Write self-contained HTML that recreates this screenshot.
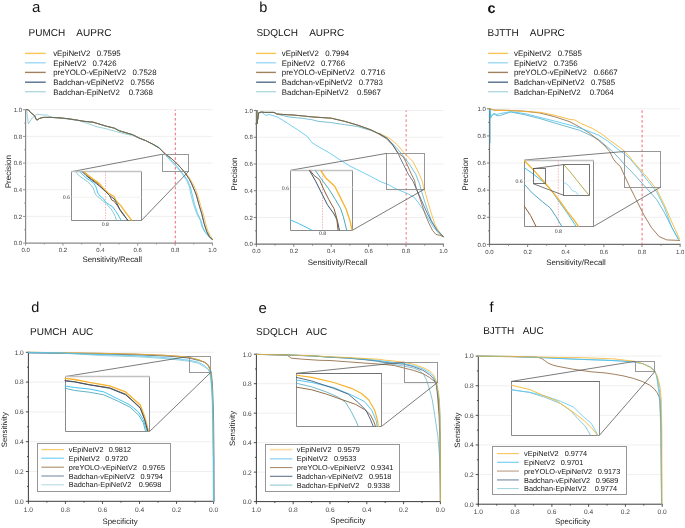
<!DOCTYPE html>
<html><head><meta charset="utf-8"><style>
html,body{margin:0;padding:0;background:#fff;}
svg{display:block;font-family:"Liberation Sans", sans-serif;will-change:transform;text-rendering:geometricPrecision;}
</style></head><body>
<svg width="685" height="528" viewBox="0 0 685 528">
<rect width="685" height="528" fill="#fff"/>
<text x="32.00" y="12.00" font-size="15" text-anchor="start" fill="#111" font-weight="normal" >a</text>
<text x="28.60" y="35.60" font-size="10" text-anchor="start" fill="#151515" font-weight="normal" >PUMCH    AUPRC</text>
<line x1="25.00" y1="53.40" x2="45.70" y2="53.40" stroke="#F8C455" stroke-width="1.4" />
<text x="53.20" y="56.23" font-size="7.85" text-anchor="start" fill="#151515" font-weight="normal" >vEpiNetV2</text>
<text x="96.65" y="56.23" font-size="7.85" text-anchor="start" fill="#151515" font-weight="normal" >0.7595</text>
<line x1="25.00" y1="62.80" x2="45.70" y2="62.80" stroke="#9CD9F5" stroke-width="1.4" />
<text x="53.20" y="65.63" font-size="7.85" text-anchor="start" fill="#151515" font-weight="normal" >EpiNetV2</text>
<text x="92.55" y="65.63" font-size="7.85" text-anchor="start" fill="#151515" font-weight="normal" >0.7426</text>
<line x1="25.00" y1="72.40" x2="45.70" y2="72.40" stroke="#A0805F" stroke-width="1.4" />
<text x="53.20" y="75.23" font-size="7.85" text-anchor="start" fill="#151515" font-weight="normal" >preYOLO-vEpiNetV2</text>
<text x="132.55" y="75.23" font-size="7.85" text-anchor="start" fill="#151515" font-weight="normal" >0.7528</text>
<line x1="25.00" y1="82.20" x2="45.70" y2="82.20" stroke="#546E8C" stroke-width="1.4" />
<text x="53.20" y="85.03" font-size="7.85" text-anchor="start" fill="#151515" font-weight="normal" >Badchan-vEpiNetV2</text>
<text x="130.45" y="85.03" font-size="7.85" text-anchor="start" fill="#151515" font-weight="normal" >0.7556</text>
<line x1="25.00" y1="91.70" x2="45.70" y2="91.70" stroke="#B0DAE0" stroke-width="1.4" />
<text x="53.20" y="94.53" font-size="7.85" text-anchor="start" fill="#151515" font-weight="normal" >Badchan-EpiNetV2</text>
<text x="128.75" y="94.53" font-size="7.85" text-anchor="start" fill="#151515" font-weight="normal" >0.7368</text>
<line x1="25.60" y1="216.42" x2="212.50" y2="216.42" stroke="#ebebeb" stroke-width="0.8" />
<line x1="25.60" y1="189.74" x2="212.50" y2="189.74" stroke="#ebebeb" stroke-width="0.8" />
<line x1="25.60" y1="163.06" x2="212.50" y2="163.06" stroke="#ebebeb" stroke-width="0.8" />
<line x1="25.60" y1="136.38" x2="212.50" y2="136.38" stroke="#ebebeb" stroke-width="0.8" />
<line x1="25.60" y1="109.70" x2="212.50" y2="109.70" stroke="#ebebeb" stroke-width="0.8" />
<line x1="25.60" y1="109.20" x2="25.60" y2="243.70" stroke="#8a8a8a" stroke-width="1.2" />
<line x1="25.00" y1="243.10" x2="213.00" y2="243.10" stroke="#8a8a8a" stroke-width="1.2" />
<line x1="23.00" y1="243.10" x2="25.60" y2="243.10" stroke="#8a8a8a" stroke-width="0.9" />
<line x1="25.60" y1="243.10" x2="25.60" y2="245.70" stroke="#8a8a8a" stroke-width="0.9" />
<line x1="24.20" y1="229.76" x2="25.60" y2="229.76" stroke="#8a8a8a" stroke-width="0.9" />
<line x1="44.29" y1="243.10" x2="44.29" y2="244.50" stroke="#8a8a8a" stroke-width="0.9" />
<line x1="23.00" y1="216.42" x2="25.60" y2="216.42" stroke="#8a8a8a" stroke-width="0.9" />
<line x1="62.98" y1="243.10" x2="62.98" y2="245.70" stroke="#8a8a8a" stroke-width="0.9" />
<line x1="24.20" y1="203.08" x2="25.60" y2="203.08" stroke="#8a8a8a" stroke-width="0.9" />
<line x1="81.67" y1="243.10" x2="81.67" y2="244.50" stroke="#8a8a8a" stroke-width="0.9" />
<line x1="23.00" y1="189.74" x2="25.60" y2="189.74" stroke="#8a8a8a" stroke-width="0.9" />
<line x1="100.36" y1="243.10" x2="100.36" y2="245.70" stroke="#8a8a8a" stroke-width="0.9" />
<line x1="24.20" y1="176.40" x2="25.60" y2="176.40" stroke="#8a8a8a" stroke-width="0.9" />
<line x1="119.05" y1="243.10" x2="119.05" y2="244.50" stroke="#8a8a8a" stroke-width="0.9" />
<line x1="23.00" y1="163.06" x2="25.60" y2="163.06" stroke="#8a8a8a" stroke-width="0.9" />
<line x1="137.74" y1="243.10" x2="137.74" y2="245.70" stroke="#8a8a8a" stroke-width="0.9" />
<line x1="24.20" y1="149.72" x2="25.60" y2="149.72" stroke="#8a8a8a" stroke-width="0.9" />
<line x1="156.43" y1="243.10" x2="156.43" y2="244.50" stroke="#8a8a8a" stroke-width="0.9" />
<line x1="23.00" y1="136.38" x2="25.60" y2="136.38" stroke="#8a8a8a" stroke-width="0.9" />
<line x1="175.12" y1="243.10" x2="175.12" y2="245.70" stroke="#8a8a8a" stroke-width="0.9" />
<line x1="24.20" y1="123.04" x2="25.60" y2="123.04" stroke="#8a8a8a" stroke-width="0.9" />
<line x1="193.81" y1="243.10" x2="193.81" y2="244.50" stroke="#8a8a8a" stroke-width="0.9" />
<line x1="23.00" y1="109.70" x2="25.60" y2="109.70" stroke="#8a8a8a" stroke-width="0.9" />
<line x1="212.50" y1="243.10" x2="212.50" y2="245.70" stroke="#8a8a8a" stroke-width="0.9" />
<text x="22.00" y="245.26" font-size="6.0" text-anchor="end" fill="#444" font-weight="normal" >0.0</text>
<text x="25.60" y="251.66" font-size="6.0" text-anchor="middle" fill="#444" font-weight="normal" >0.0</text>
<text x="22.00" y="218.58" font-size="6.0" text-anchor="end" fill="#444" font-weight="normal" >0.2</text>
<text x="62.98" y="251.66" font-size="6.0" text-anchor="middle" fill="#444" font-weight="normal" >0.2</text>
<text x="22.00" y="191.90" font-size="6.0" text-anchor="end" fill="#444" font-weight="normal" >0.4</text>
<text x="100.36" y="251.66" font-size="6.0" text-anchor="middle" fill="#444" font-weight="normal" >0.4</text>
<text x="22.00" y="165.22" font-size="6.0" text-anchor="end" fill="#444" font-weight="normal" >0.6</text>
<text x="137.74" y="251.66" font-size="6.0" text-anchor="middle" fill="#444" font-weight="normal" >0.6</text>
<text x="22.00" y="138.54" font-size="6.0" text-anchor="end" fill="#444" font-weight="normal" >0.8</text>
<text x="175.12" y="251.66" font-size="6.0" text-anchor="middle" fill="#444" font-weight="normal" >0.8</text>
<text x="22.00" y="111.86" font-size="6.0" text-anchor="end" fill="#444" font-weight="normal" >1.0</text>
<text x="212.50" y="251.66" font-size="6.0" text-anchor="middle" fill="#444" font-weight="normal" >1.0</text>
<text x="11.10" y="171.70" font-size="8.1" text-anchor="middle" fill="#222" font-weight="normal" transform="rotate(-90 11.1 171.7)">Precision</text>
<text x="112.20" y="262.20" font-size="7.9" text-anchor="middle" fill="#222" font-weight="normal" >Sensitivity/Recall</text>
<line x1="175.30" y1="109.70" x2="175.30" y2="243.10" stroke="#F26672" stroke-width="1.0" stroke-dasharray="2.6,2.3" stroke-dashoffset="1.5"/>
<polyline points="26.60,109.50 27.50,117.40 28.40,124.00 30.10,120.90 32.80,117.40 35.40,115.20 37.10,114.30 41.50,114.80 47.60,115.20 49.40,116.50 52.90,117.40 59.00,118.00 67.80,119.00 76.50,120.30 80.00,120.90 87.90,123.50 97.10,126.80 106.30,128.80 115.50,131.40 126.00,134.10 132.60,135.40 139.10,138.20 145.70,140.80 152.30,144.20 158.80,147.50 165.70,155.00 169.50,159.50 178.90,169.90 182.70,174.60 186.50,180.30 189.40,186.90 191.00,195.00 193.50,204.50 196.80,213.90 200.40,220.60 201.80,226.30 204.10,231.00 207.90,235.70 212.00,239.50" fill="none" stroke="#7FC6CF" stroke-width="0.8" stroke-linejoin="round" stroke-linecap="round" />
<polyline points="26.60,109.50 28.40,109.90 30.10,112.10 32.80,114.30 34.50,115.60 36.30,119.60 37.10,120.00 39.80,118.30 43.30,117.40 50.30,117.40 59.00,117.80 67.80,118.70 76.50,120.00 84.00,121.30 93.10,122.20 106.30,126.20 114.20,128.10 119.40,130.80 132.60,134.70 139.10,138.00 145.70,140.60 152.30,143.90 158.80,147.20 165.70,155.20 170.40,159.50 175.20,164.20 179.90,169.90 183.70,174.60 187.50,180.30 190.30,186.90 192.30,195.00 194.60,204.50 197.80,213.90 201.30,221.50 202.50,226.30 204.60,231.00 208.40,235.70 212.20,239.50" fill="none" stroke="#45C3F1" stroke-width="0.8" stroke-linejoin="round" stroke-linecap="round" />
<polyline points="26.60,109.50 28.40,109.90 30.10,112.10 32.80,114.30 34.50,115.60 36.30,119.60 37.10,120.00 39.80,118.30 43.30,117.40 50.30,117.40 59.00,117.80 67.80,118.70 76.50,120.00 84.00,121.30 93.10,122.20 106.30,126.20 114.20,128.10 119.40,130.80 132.60,134.70 139.10,138.00 145.70,140.60 152.30,143.90 158.80,147.80 165.70,154.30 171.40,158.50 177.00,163.70 181.80,168.90 185.60,173.70 189.40,179.40 192.20,185.00 195.00,191.70 196.30,195.00 198.90,204.50 201.80,213.90 204.10,223.40 206.50,231.00 209.40,236.70 212.20,239.50" fill="none" stroke="#8C5E34" stroke-width="0.8" stroke-linejoin="round" stroke-linecap="round" />
<polyline points="26.60,109.50 28.40,109.90 30.10,112.10 32.80,114.30 34.50,115.60 36.30,119.60 37.10,120.00 39.80,118.30 43.30,117.40 50.30,117.40 59.00,117.80 67.80,118.70 76.50,120.00 84.00,121.30 93.10,122.20 106.30,126.20 114.20,128.10 119.40,130.80 132.60,134.70 139.10,138.00 145.70,140.60 152.30,143.90 158.80,147.80 165.70,154.30 171.40,158.50 177.00,163.70 181.80,168.90 186.50,173.70 190.30,179.40 193.60,185.00 196.50,191.70 197.60,195.00 200.40,204.50 203.20,213.90 205.60,223.40 207.90,231.00 210.30,235.70 212.70,239.00" fill="none" stroke="#F6B32B" stroke-width="0.8" stroke-linejoin="round" stroke-linecap="round" />
<polyline points="26.60,109.50 28.40,109.90 30.10,112.10 32.80,114.30 34.50,115.60 36.30,119.60 37.10,120.00 39.80,118.30 43.30,117.40 50.30,117.40 59.00,117.80 67.80,118.70 76.50,120.00 84.00,121.30 93.10,122.20 106.30,126.20 114.20,128.10 119.40,130.80 132.60,134.70 139.10,138.00 145.70,140.60 152.30,143.90 158.80,147.80 165.70,154.30 171.40,158.50 177.00,163.70 181.80,168.90 185.60,173.70 189.40,179.40 192.20,185.00 195.00,191.70 196.30,195.00 198.90,204.50 201.80,213.90 204.10,223.40 206.50,231.00 209.40,236.70 212.20,239.50" fill="none" stroke="#3B5675" stroke-width="0.75" stroke-linejoin="round" stroke-linecap="round" />
<rect x="162.50" y="154.50" width="26.00" height="17.00" stroke="#8e8e8e" stroke-width="0.9" fill="none"/>
<line x1="71.50" y1="171.70" x2="162.00" y2="154.30" stroke="#5a5a5a" stroke-width="0.8" />
<line x1="141.60" y1="220.30" x2="188.60" y2="171.40" stroke="#5a5a5a" stroke-width="0.8" />
<rect x="71.50" y="171.50" width="70.00" height="49.00" stroke="none" stroke-width="0" fill="white"/>
<path d="M71.5,171.5 L71.5,220.5 L141.5,220.5 L141.5,171.5" fill="none" stroke="#7e7e7e" stroke-width="0.9"/>
<line x1="71.10" y1="171.50" x2="141.90" y2="171.50" stroke="#c2c2c2" stroke-width="1.4" />
<line x1="71.50" y1="197.20" x2="141.60" y2="197.20" stroke="#eeeeee" stroke-width="0.7" />
<line x1="105.50" y1="171.70" x2="105.50" y2="220.30" stroke="#F59AA0" stroke-width="0.7" stroke-dasharray="1.5,1.2" stroke-dashoffset="0"/>
<text x="69.90" y="199.25" font-size="5.2" text-anchor="end" fill="#333" font-weight="normal" >0.6</text>
<text x="105.30" y="226.25" font-size="5.2" text-anchor="middle" fill="#333" font-weight="normal" >0.8</text>
<polyline points="76.09,172.01 77.85,174.34 80.18,176.68 83.69,179.01 87.19,181.35 90.69,184.85 93.03,187.77 94.20,190.69 95.36,194.20 97.70,196.53 101.20,199.45 104.71,202.37 107.04,204.71 110.55,208.21 112.88,211.72 115.22,216.39 116.39,220.12" fill="none" stroke="#7FC6CF" stroke-width="0.95" stroke-linejoin="round" stroke-linecap="round" />
<polyline points="80.18,172.01 82.52,174.34 86.02,177.85 89.53,180.18 93.03,182.52 95.36,185.44 96.53,188.36 97.70,193.03 100.04,195.95 103.54,198.87 105.88,202.37 109.38,204.71 112.88,207.04 115.22,210.55 117.55,214.05 121.06,220.12" fill="none" stroke="#45C3F1" stroke-width="1.0" stroke-linejoin="round" stroke-linecap="round" />
<polyline points="83.69,172.01 88.36,176.68 93.03,180.18 98.87,184.27 103.54,189.53 109.38,195.36 111.72,200.04 114.05,201.20 117.55,205.88 121.06,211.72 124.56,216.39 128.07,220.12" fill="none" stroke="#8C5E34" stroke-width="1.0" stroke-linejoin="round" stroke-linecap="round" />
<polyline points="84.27,172.01 88.36,175.51 93.03,179.01 98.87,183.10 103.54,188.36 108.21,193.03 114.05,196.53 116.39,201.20 121.06,205.88 123.39,209.38 126.90,214.05 131.57,220.12" fill="none" stroke="#F6B32B" stroke-width="1.3" stroke-linejoin="round" stroke-linecap="round" />
<polyline points="82.52,172.01 86.02,175.51 91.86,180.18 96.53,183.69 100.04,186.61 105.88,191.86 109.38,195.36 114.05,198.87 116.39,202.37 119.89,209.38 123.39,214.05 127.48,220.12" fill="none" stroke="#3B5675" stroke-width="1.0" stroke-linejoin="round" stroke-linecap="round" />
<text x="259.30" y="11.80" font-size="14.5" text-anchor="start" fill="#111" font-weight="normal" >b</text>
<text x="256.40" y="36.00" font-size="10" text-anchor="start" fill="#151515" font-weight="normal" >SDQLCH    AUPRC</text>
<line x1="256.10" y1="53.40" x2="275.90" y2="53.40" stroke="#F8C455" stroke-width="1.4" />
<text x="281.80" y="56.23" font-size="7.85" text-anchor="start" fill="#151515" font-weight="normal" >vEpiNetV2</text>
<text x="325.15" y="56.23" font-size="7.85" text-anchor="start" fill="#151515" font-weight="normal" >0.7994</text>
<line x1="256.10" y1="62.80" x2="275.90" y2="62.80" stroke="#9CD9F5" stroke-width="1.4" />
<text x="281.80" y="65.63" font-size="7.85" text-anchor="start" fill="#151515" font-weight="normal" >EpiNetV2</text>
<text x="321.05" y="65.63" font-size="7.85" text-anchor="start" fill="#151515" font-weight="normal" >0.7766</text>
<line x1="256.10" y1="72.40" x2="275.90" y2="72.40" stroke="#A0805F" stroke-width="1.4" />
<text x="281.80" y="75.23" font-size="7.85" text-anchor="start" fill="#151515" font-weight="normal" >preYOLO-vEpiNetV2</text>
<text x="361.05" y="75.23" font-size="7.85" text-anchor="start" fill="#151515" font-weight="normal" >0.7716</text>
<line x1="256.10" y1="82.20" x2="275.90" y2="82.20" stroke="#546E8C" stroke-width="1.4" />
<text x="281.80" y="85.03" font-size="7.85" text-anchor="start" fill="#151515" font-weight="normal" >Badchan-vEpiNetV2</text>
<text x="358.75" y="85.03" font-size="7.85" text-anchor="start" fill="#151515" font-weight="normal" >0.7783</text>
<line x1="256.10" y1="91.70" x2="275.90" y2="91.70" stroke="#B0DAE0" stroke-width="1.4" />
<text x="281.80" y="94.53" font-size="7.85" text-anchor="start" fill="#151515" font-weight="normal" >Badchan-EpiNetV2</text>
<text x="356.95" y="94.53" font-size="7.85" text-anchor="start" fill="#151515" font-weight="normal" >0.5967</text>
<line x1="256.40" y1="217.46" x2="443.40" y2="217.46" stroke="#ebebeb" stroke-width="0.8" />
<line x1="256.40" y1="190.72" x2="443.40" y2="190.72" stroke="#ebebeb" stroke-width="0.8" />
<line x1="256.40" y1="163.98" x2="443.40" y2="163.98" stroke="#ebebeb" stroke-width="0.8" />
<line x1="256.40" y1="137.24" x2="443.40" y2="137.24" stroke="#ebebeb" stroke-width="0.8" />
<line x1="256.40" y1="110.50" x2="443.40" y2="110.50" stroke="#ebebeb" stroke-width="0.8" />
<line x1="256.40" y1="110.00" x2="256.40" y2="244.80" stroke="#6f6f6f" stroke-width="1.2" />
<line x1="255.80" y1="244.20" x2="443.90" y2="244.20" stroke="#6f6f6f" stroke-width="1.2" />
<line x1="253.80" y1="244.20" x2="256.40" y2="244.20" stroke="#6f6f6f" stroke-width="0.9" />
<line x1="256.40" y1="244.20" x2="256.40" y2="246.80" stroke="#6f6f6f" stroke-width="0.9" />
<line x1="255.00" y1="230.83" x2="256.40" y2="230.83" stroke="#6f6f6f" stroke-width="0.9" />
<line x1="275.10" y1="244.20" x2="275.10" y2="245.60" stroke="#6f6f6f" stroke-width="0.9" />
<line x1="253.80" y1="217.46" x2="256.40" y2="217.46" stroke="#6f6f6f" stroke-width="0.9" />
<line x1="293.80" y1="244.20" x2="293.80" y2="246.80" stroke="#6f6f6f" stroke-width="0.9" />
<line x1="255.00" y1="204.09" x2="256.40" y2="204.09" stroke="#6f6f6f" stroke-width="0.9" />
<line x1="312.50" y1="244.20" x2="312.50" y2="245.60" stroke="#6f6f6f" stroke-width="0.9" />
<line x1="253.80" y1="190.72" x2="256.40" y2="190.72" stroke="#6f6f6f" stroke-width="0.9" />
<line x1="331.20" y1="244.20" x2="331.20" y2="246.80" stroke="#6f6f6f" stroke-width="0.9" />
<line x1="255.00" y1="177.35" x2="256.40" y2="177.35" stroke="#6f6f6f" stroke-width="0.9" />
<line x1="349.90" y1="244.20" x2="349.90" y2="245.60" stroke="#6f6f6f" stroke-width="0.9" />
<line x1="253.80" y1="163.98" x2="256.40" y2="163.98" stroke="#6f6f6f" stroke-width="0.9" />
<line x1="368.60" y1="244.20" x2="368.60" y2="246.80" stroke="#6f6f6f" stroke-width="0.9" />
<line x1="255.00" y1="150.61" x2="256.40" y2="150.61" stroke="#6f6f6f" stroke-width="0.9" />
<line x1="387.30" y1="244.20" x2="387.30" y2="245.60" stroke="#6f6f6f" stroke-width="0.9" />
<line x1="253.80" y1="137.24" x2="256.40" y2="137.24" stroke="#6f6f6f" stroke-width="0.9" />
<line x1="406.00" y1="244.20" x2="406.00" y2="246.80" stroke="#6f6f6f" stroke-width="0.9" />
<line x1="255.00" y1="123.87" x2="256.40" y2="123.87" stroke="#6f6f6f" stroke-width="0.9" />
<line x1="424.70" y1="244.20" x2="424.70" y2="245.60" stroke="#6f6f6f" stroke-width="0.9" />
<line x1="253.80" y1="110.50" x2="256.40" y2="110.50" stroke="#6f6f6f" stroke-width="0.9" />
<line x1="443.40" y1="244.20" x2="443.40" y2="246.80" stroke="#6f6f6f" stroke-width="0.9" />
<text x="252.80" y="246.36" font-size="6.0" text-anchor="end" fill="#444" font-weight="normal" >0.0</text>
<text x="256.40" y="253.26" font-size="6.0" text-anchor="middle" fill="#444" font-weight="normal" >0.0</text>
<text x="252.80" y="219.62" font-size="6.0" text-anchor="end" fill="#444" font-weight="normal" >0.2</text>
<text x="293.80" y="253.26" font-size="6.0" text-anchor="middle" fill="#444" font-weight="normal" >0.2</text>
<text x="252.80" y="192.88" font-size="6.0" text-anchor="end" fill="#444" font-weight="normal" >0.4</text>
<text x="331.20" y="253.26" font-size="6.0" text-anchor="middle" fill="#444" font-weight="normal" >0.4</text>
<text x="252.80" y="166.14" font-size="6.0" text-anchor="end" fill="#444" font-weight="normal" >0.6</text>
<text x="368.60" y="253.26" font-size="6.0" text-anchor="middle" fill="#444" font-weight="normal" >0.6</text>
<text x="252.80" y="139.40" font-size="6.0" text-anchor="end" fill="#444" font-weight="normal" >0.8</text>
<text x="406.00" y="253.26" font-size="6.0" text-anchor="middle" fill="#444" font-weight="normal" >0.8</text>
<text x="252.80" y="112.66" font-size="6.0" text-anchor="end" fill="#444" font-weight="normal" >1.0</text>
<text x="443.40" y="253.26" font-size="6.0" text-anchor="middle" fill="#444" font-weight="normal" >1.0</text>
<text x="236.80" y="174.10" font-size="8.1" text-anchor="middle" fill="#222" font-weight="normal" transform="rotate(-90 236.8 174.1)">Precision</text>
<text x="337.60" y="264.80" font-size="7.9" text-anchor="middle" fill="#222" font-weight="normal" >Sensitivity/Recall</text>
<line x1="406.20" y1="110.50" x2="406.20" y2="244.20" stroke="#F58C96" stroke-width="1.2" stroke-dasharray="2.6,2.3" stroke-dashoffset="1.0"/>
<polyline points="256.90,110.70 256.90,124.00 258.80,112.60 261.60,112.10 264.50,114.50 265.40,115.40 269.20,114.50 272.10,115.40 274.00,115.90 277.80,117.30 280.00,118.60 287.30,123.00 291.70,126.00 297.50,129.60 307.70,136.90 312.10,142.70 318.00,146.40 329.60,153.00 338.40,158.80 342.80,161.70 350.00,166.10 361.80,171.90 370.50,176.30 380.00,181.40 389.80,185.30 395.00,188.40 401.80,191.20 408.60,194.10 414.30,197.50 418.80,203.20 423.40,210.00 427.90,217.90 432.50,225.90 438.10,232.70 443.30,236.70" fill="none" stroke="#52C1EE" stroke-width="0.8" stroke-linejoin="round" stroke-linecap="round" />
<polyline points="256.90,110.70 256.90,124.00 258.80,112.60 261.60,112.10 264.50,112.40 274.00,112.40 276.80,114.00 288.20,116.90 302.40,118.30 311.90,119.70 318.00,121.30 331.30,122.60 344.50,124.60 357.80,126.60 371.00,130.50 379.00,133.90 387.40,138.50 394.80,145.90 402.20,154.50 409.50,164.40 415.70,174.20 419.40,183.50 421.70,191.80 424.50,200.90 427.90,211.10 431.30,220.20 435.90,228.10 443.30,236.70" fill="none" stroke="#5AAFC8" stroke-width="0.8" stroke-linejoin="round" stroke-linecap="round" />
<polyline points="256.90,110.70 256.90,124.00 258.80,112.60 261.60,112.10 264.50,112.40 274.00,112.40 276.80,114.00 283.50,114.50 293.00,115.00 302.40,115.90 311.90,116.90 318.00,117.30 331.30,118.20 344.50,121.30 357.80,125.20 371.00,129.90 377.70,133.20 380.00,134.80 386.20,138.50 392.30,144.70 398.50,153.30 403.40,157.00 407.10,164.40 410.80,173.00 414.50,180.40 415.40,185.00 416.60,189.50 418.80,195.20 422.20,205.40 425.70,215.70 429.10,223.60 432.50,230.40 435.90,234.40 440.40,235.50 443.30,236.70" fill="none" stroke="#8C5E34" stroke-width="0.8" stroke-linejoin="round" stroke-linecap="round" />
<polyline points="256.90,110.70 256.90,124.00 258.80,112.60 261.60,112.10 264.50,112.40 274.00,112.40 276.80,114.00 283.50,114.50 293.00,115.00 302.40,115.90 311.90,116.90 318.00,117.30 331.30,118.20 344.50,121.30 357.80,125.20 371.00,129.90 377.70,133.20 380.00,133.60 389.80,138.50 397.20,144.70 404.60,153.30 413.20,161.90 418.20,171.80 421.90,180.40 423.70,187.80 425.10,191.80 427.90,202.00 431.30,213.40 434.70,223.60 438.10,230.40 443.30,236.70" fill="none" stroke="#F6B32B" stroke-width="0.8" stroke-linejoin="round" stroke-linecap="round" />
<polyline points="256.90,110.70 256.90,124.00 258.80,112.60 261.60,112.10 264.50,112.40 274.00,112.40 276.80,114.00 283.50,114.50 293.00,115.00 302.40,115.90 311.90,116.90 318.00,117.30 331.30,118.20 344.50,121.30 357.80,125.20 371.00,129.90 377.70,133.20 380.00,133.90 387.40,138.50 393.50,145.90 398.50,154.50 403.40,164.40 408.30,174.20 413.20,181.60 415.50,187.00 417.70,191.80 422.20,202.00 426.80,212.20 431.30,221.30 437.00,230.40 443.30,236.70" fill="none" stroke="#3B5675" stroke-width="0.75" stroke-linejoin="round" stroke-linecap="round" />
<rect x="386.50" y="153.50" width="38.00" height="36.00" stroke="#8e8e8e" stroke-width="0.9" fill="none"/>
<line x1="290.90" y1="170.20" x2="386.60" y2="153.40" stroke="#5a5a5a" stroke-width="0.8" />
<line x1="352.80" y1="230.00" x2="424.60" y2="189.10" stroke="#5a5a5a" stroke-width="0.8" />
<rect x="290.50" y="170.50" width="62.00" height="60.00" stroke="none" stroke-width="0" fill="white"/>
<path d="M290.5,170.5 L290.5,230.5 L352.5,230.5 L352.5,170.5" fill="none" stroke="#7e7e7e" stroke-width="0.9"/>
<line x1="290.10" y1="170.50" x2="352.90" y2="170.50" stroke="#c2c2c2" stroke-width="1.4" />
<line x1="290.90" y1="187.30" x2="352.80" y2="187.30" stroke="#eeeeee" stroke-width="0.7" />
<line x1="322.50" y1="170.20" x2="322.50" y2="230.00" stroke="#F59AA0" stroke-width="0.7" stroke-dasharray="1.5,1.2" stroke-dashoffset="0"/>
<text x="289.00" y="189.65" font-size="5.2" text-anchor="end" fill="#333" font-weight="normal" >0.6</text>
<text x="322.50" y="235.45" font-size="5.2" text-anchor="middle" fill="#333" font-weight="normal" >0.8</text>
<polyline points="290.57,220.02 298.26,223.33 311.51,229.96" fill="none" stroke="#45C3F1" stroke-width="1.0" stroke-linejoin="round" stroke-linecap="round" />
<polyline points="309.53,170.57 315.49,180.91 322.12,194.17 327.42,204.77 334.05,214.05 337.37,220.68 339.36,229.96" fill="none" stroke="#3B5675" stroke-width="1.0" stroke-linejoin="round" stroke-linecap="round" />
<polyline points="310.19,170.57 314.17,175.61 319.47,179.58 323.45,188.86 328.75,199.47 334.05,208.75 336.70,218.03 338.03,229.96" fill="none" stroke="#8C5E34" stroke-width="1.0" stroke-linejoin="round" stroke-linecap="round" />
<polyline points="315.49,170.57 320.79,178.26 328.75,188.86 335.38,199.47 340.68,208.75 343.33,216.70 346.65,229.96" fill="none" stroke="#4FA9C2" stroke-width="1.0" stroke-linejoin="round" stroke-linecap="round" />
<polyline points="320.79,170.57 326.10,178.26 334.71,186.21 340.68,198.14 345.98,208.75 349.96,220.68 351.95,229.96" fill="none" stroke="#F6B32B" stroke-width="1.3" stroke-linejoin="round" stroke-linecap="round" />
<text x="487.60" y="12.60" font-size="14.5" text-anchor="start" fill="#111" font-weight="bold" >c</text>
<text x="487.60" y="36.00" font-size="10" text-anchor="start" fill="#151515" font-weight="normal" >BJTTH    AUPRC</text>
<line x1="488.00" y1="53.40" x2="508.00" y2="53.40" stroke="#F8C455" stroke-width="1.4" />
<text x="514.00" y="56.23" font-size="7.85" text-anchor="start" fill="#151515" font-weight="normal" >vEpiNetV2</text>
<text x="557.75" y="56.23" font-size="7.85" text-anchor="start" fill="#151515" font-weight="normal" >0.7585</text>
<line x1="488.00" y1="62.80" x2="508.00" y2="62.80" stroke="#9CD9F5" stroke-width="1.4" />
<text x="514.00" y="65.63" font-size="7.85" text-anchor="start" fill="#151515" font-weight="normal" >EpiNetV2</text>
<text x="553.65" y="65.63" font-size="7.85" text-anchor="start" fill="#151515" font-weight="normal" >0.7356</text>
<line x1="488.00" y1="72.40" x2="508.00" y2="72.40" stroke="#A0805F" stroke-width="1.4" />
<text x="514.00" y="75.23" font-size="7.85" text-anchor="start" fill="#151515" font-weight="normal" >preYOLO-vEpiNetV2</text>
<text x="593.65" y="75.23" font-size="7.85" text-anchor="start" fill="#151515" font-weight="normal" >0.6667</text>
<line x1="488.00" y1="82.20" x2="508.00" y2="82.20" stroke="#546E8C" stroke-width="1.4" />
<text x="514.00" y="85.03" font-size="7.85" text-anchor="start" fill="#151515" font-weight="normal" >Badchan-vEpiNetV2</text>
<text x="591.05" y="85.03" font-size="7.85" text-anchor="start" fill="#151515" font-weight="normal" >0.7585</text>
<line x1="488.00" y1="91.70" x2="508.00" y2="91.70" stroke="#B0DAE0" stroke-width="1.4" />
<text x="514.00" y="94.53" font-size="7.85" text-anchor="start" fill="#151515" font-weight="normal" >Badchan-EpiNetV2</text>
<text x="589.65" y="94.53" font-size="7.85" text-anchor="start" fill="#151515" font-weight="normal" >0.7064</text>
<line x1="489.50" y1="217.28" x2="680.10" y2="217.28" stroke="#ebebeb" stroke-width="0.8" />
<line x1="489.50" y1="190.16" x2="680.10" y2="190.16" stroke="#ebebeb" stroke-width="0.8" />
<line x1="489.50" y1="163.04" x2="680.10" y2="163.04" stroke="#ebebeb" stroke-width="0.8" />
<line x1="489.50" y1="135.92" x2="680.10" y2="135.92" stroke="#ebebeb" stroke-width="0.8" />
<line x1="489.50" y1="108.80" x2="680.10" y2="108.80" stroke="#ebebeb" stroke-width="0.8" />
<line x1="489.50" y1="108.30" x2="489.50" y2="245.00" stroke="#6f6f6f" stroke-width="1.2" />
<line x1="488.90" y1="244.40" x2="680.60" y2="244.40" stroke="#6f6f6f" stroke-width="1.2" />
<line x1="486.90" y1="244.40" x2="489.50" y2="244.40" stroke="#6f6f6f" stroke-width="0.9" />
<line x1="489.50" y1="244.40" x2="489.50" y2="247.00" stroke="#6f6f6f" stroke-width="0.9" />
<line x1="488.10" y1="230.84" x2="489.50" y2="230.84" stroke="#6f6f6f" stroke-width="0.9" />
<line x1="508.56" y1="244.40" x2="508.56" y2="245.80" stroke="#6f6f6f" stroke-width="0.9" />
<line x1="486.90" y1="217.28" x2="489.50" y2="217.28" stroke="#6f6f6f" stroke-width="0.9" />
<line x1="527.62" y1="244.40" x2="527.62" y2="247.00" stroke="#6f6f6f" stroke-width="0.9" />
<line x1="488.10" y1="203.72" x2="489.50" y2="203.72" stroke="#6f6f6f" stroke-width="0.9" />
<line x1="546.68" y1="244.40" x2="546.68" y2="245.80" stroke="#6f6f6f" stroke-width="0.9" />
<line x1="486.90" y1="190.16" x2="489.50" y2="190.16" stroke="#6f6f6f" stroke-width="0.9" />
<line x1="565.74" y1="244.40" x2="565.74" y2="247.00" stroke="#6f6f6f" stroke-width="0.9" />
<line x1="488.10" y1="176.60" x2="489.50" y2="176.60" stroke="#6f6f6f" stroke-width="0.9" />
<line x1="584.80" y1="244.40" x2="584.80" y2="245.80" stroke="#6f6f6f" stroke-width="0.9" />
<line x1="486.90" y1="163.04" x2="489.50" y2="163.04" stroke="#6f6f6f" stroke-width="0.9" />
<line x1="603.86" y1="244.40" x2="603.86" y2="247.00" stroke="#6f6f6f" stroke-width="0.9" />
<line x1="488.10" y1="149.48" x2="489.50" y2="149.48" stroke="#6f6f6f" stroke-width="0.9" />
<line x1="622.92" y1="244.40" x2="622.92" y2="245.80" stroke="#6f6f6f" stroke-width="0.9" />
<line x1="486.90" y1="135.92" x2="489.50" y2="135.92" stroke="#6f6f6f" stroke-width="0.9" />
<line x1="641.98" y1="244.40" x2="641.98" y2="247.00" stroke="#6f6f6f" stroke-width="0.9" />
<line x1="488.10" y1="122.36" x2="489.50" y2="122.36" stroke="#6f6f6f" stroke-width="0.9" />
<line x1="661.04" y1="244.40" x2="661.04" y2="245.80" stroke="#6f6f6f" stroke-width="0.9" />
<line x1="486.90" y1="108.80" x2="489.50" y2="108.80" stroke="#6f6f6f" stroke-width="0.9" />
<line x1="680.10" y1="244.40" x2="680.10" y2="247.00" stroke="#6f6f6f" stroke-width="0.9" />
<text x="485.90" y="246.56" font-size="6.0" text-anchor="end" fill="#444" font-weight="normal" >0.0</text>
<text x="489.50" y="253.56" font-size="6.0" text-anchor="middle" fill="#444" font-weight="normal" >0.0</text>
<text x="485.90" y="219.44" font-size="6.0" text-anchor="end" fill="#444" font-weight="normal" >0.2</text>
<text x="527.62" y="253.56" font-size="6.0" text-anchor="middle" fill="#444" font-weight="normal" >0.2</text>
<text x="485.90" y="192.32" font-size="6.0" text-anchor="end" fill="#444" font-weight="normal" >0.4</text>
<text x="565.74" y="253.56" font-size="6.0" text-anchor="middle" fill="#444" font-weight="normal" >0.4</text>
<text x="485.90" y="165.20" font-size="6.0" text-anchor="end" fill="#444" font-weight="normal" >0.6</text>
<text x="603.86" y="253.56" font-size="6.0" text-anchor="middle" fill="#444" font-weight="normal" >0.6</text>
<text x="485.90" y="138.08" font-size="6.0" text-anchor="end" fill="#444" font-weight="normal" >0.8</text>
<text x="641.98" y="253.56" font-size="6.0" text-anchor="middle" fill="#444" font-weight="normal" >0.8</text>
<text x="485.90" y="110.96" font-size="6.0" text-anchor="end" fill="#444" font-weight="normal" >1.0</text>
<text x="680.10" y="253.56" font-size="6.0" text-anchor="middle" fill="#444" font-weight="normal" >1.0</text>
<text x="467.80" y="174.10" font-size="8.1" text-anchor="middle" fill="#222" font-weight="normal" transform="rotate(-90 467.8 174.1)">Precision</text>
<text x="576.00" y="264.90" font-size="7.9" text-anchor="middle" fill="#222" font-weight="normal" >Sensitivity/Recall</text>
<line x1="642.10" y1="108.80" x2="642.10" y2="244.40" stroke="#F26672" stroke-width="1.0" stroke-dasharray="2.6,2.3" stroke-dashoffset="3.4"/>
<polyline points="490.10,142.80 490.10,108.80 490.60,118.00 491.40,116.10 494.00,114.00 497.00,115.70 499.50,115.70 510.70,112.00 525.10,114.80 540.00,118.60 554.60,123.00 570.00,127.50 579.50,130.30 588.90,134.60 598.40,139.30 605.00,145.00 612.60,151.60 619.20,158.30 624.70,164.90 633.40,173.60 646.38,188.01 656.61,199.51 664.28,212.30 671.96,227.65 678.35,239.16" fill="none" stroke="#4FA9C2" stroke-width="0.8" stroke-linejoin="round" stroke-linecap="round" />
<polyline points="489.90,108.80 493.00,110.00 509.10,110.40 525.10,111.20 540.00,113.00 554.60,116.70 570.00,121.80 579.50,127.00 588.90,132.70 598.40,140.30 605.00,146.00 609.70,151.60 613.50,159.20 617.00,163.50 620.30,166.30 623.90,174.30 628.48,184.17 636.15,199.51 643.82,214.86 651.50,227.65 659.17,236.60 666.84,239.92 679.63,240.43" fill="none" stroke="#8C5E34" stroke-width="0.8" stroke-linejoin="round" stroke-linecap="round" />
<polyline points="489.90,108.80 490.40,118.00 491.40,115.30 494.00,113.50 497.00,114.50 499.50,113.70 510.70,111.60 525.10,113.70 540.00,117.40 554.60,121.10 570.00,125.10 579.50,128.00 588.90,131.30 598.40,135.10 607.90,141.20 617.30,148.80 623.90,153.50 630.00,158.70 640.00,170.70 646.38,179.05 656.61,191.84 664.28,207.19 671.96,227.65 678.35,239.16" fill="none" stroke="#45C3F1" stroke-width="0.8" stroke-linejoin="round" stroke-linecap="round" />
<polyline points="489.90,108.60 494.60,110.40 509.10,110.40 525.10,111.60 540.00,112.30 554.60,115.20 570.00,119.50 574.70,119.90 581.40,123.70 592.70,128.50 601.20,133.70 609.70,140.30 619.20,146.90 624.90,151.60 630.00,157.30 633.40,161.90 640.00,169.20 646.38,176.50 656.61,189.28 664.28,204.63 671.96,222.53 679.63,239.16" fill="none" stroke="#F6B32B" stroke-width="0.85" stroke-linejoin="round" stroke-linecap="round" />
<rect x="624.50" y="151.50" width="36.00" height="36.00" stroke="#8e8e8e" stroke-width="0.9" fill="none"/>
<line x1="524.50" y1="160.00" x2="624.30" y2="151.50" stroke="#5a5a5a" stroke-width="0.8" />
<line x1="593.00" y1="226.80" x2="660.50" y2="187.20" stroke="#5a5a5a" stroke-width="0.8" />
<rect x="524.50" y="160.50" width="69.00" height="66.00" stroke="none" stroke-width="0" fill="white"/>
<path d="M524.5,160.5 L524.5,226.5 L593.5,226.5 L593.5,160.5" fill="none" stroke="#7e7e7e" stroke-width="0.9"/>
<line x1="524.10" y1="160.50" x2="593.90" y2="160.50" stroke="#c2c2c2" stroke-width="1.4" />
<line x1="524.50" y1="180.80" x2="593.00" y2="180.80" stroke="#eeeeee" stroke-width="0.7" />
<line x1="558.30" y1="160.00" x2="558.30" y2="226.80" stroke="#F59AA0" stroke-width="0.7" stroke-dasharray="1.5,1.2" stroke-dashoffset="0"/>
<text x="522.60" y="182.85" font-size="5.2" text-anchor="end" fill="#333" font-weight="normal" >0.6</text>
<text x="558.30" y="232.65" font-size="5.2" text-anchor="middle" fill="#333" font-weight="normal" >0.8</text>
<polyline points="524.55,206.52 530.61,215.61 535.91,226.21" fill="none" stroke="#8C5E34" stroke-width="1.0" stroke-linejoin="round" stroke-linecap="round" />
<polyline points="524.55,184.55 532.12,192.88 542.73,201.97 550.30,208.03 556.36,217.12 561.67,226.21" fill="none" stroke="#4FA9C2" stroke-width="1.0" stroke-linejoin="round" stroke-linecap="round" />
<polyline points="524.55,167.88 532.12,173.18 542.73,181.52 550.30,189.09 559.39,201.97 566.97,212.58 576.06,226.21" fill="none" stroke="#45C3F1" stroke-width="1.0" stroke-linejoin="round" stroke-linecap="round" />
<polyline points="524.55,160.76 533.64,170.15 545.76,183.79 553.33,192.88 559.39,200.45 566.97,211.06 573.03,218.64 578.33,226.21" fill="none" stroke="#F6B32B" stroke-width="1.3" stroke-linejoin="round" stroke-linecap="round" />
<rect x="533.50" y="168.50" width="12.00" height="15.00" stroke="#555" stroke-width="0.8" fill="none"/>
<line x1="533.33" y1="168.64" x2="563.64" y2="164.55" stroke="#555" stroke-width="0.8" />
<line x1="533.33" y1="183.79" x2="563.64" y2="195.30" stroke="#555" stroke-width="0.8" />
<rect x="563.50" y="164.50" width="26.00" height="31.00" stroke="#555" stroke-width="0.8" fill="white"/>
<polyline points="563.94,164.85 570.00,171.67 576.06,179.24 582.12,186.82 588.94,195.15" fill="none" stroke="#B0A040" stroke-width="0.9" stroke-linejoin="round" stroke-linecap="round" />
<polyline points="563.94,182.27 568.48,185.30 572.27,190.61 575.30,191.36 578.33,195.15" fill="none" stroke="#8FD6F2" stroke-width="0.9" stroke-linejoin="round" stroke-linecap="round" />
<text x="31.20" y="312.20" font-size="14.5" text-anchor="start" fill="#111" font-weight="normal" >d</text>
<text x="30.00" y="334.50" font-size="10" text-anchor="start" fill="#151515" font-weight="normal" >PUMCH  AUC</text>
<line x1="28.40" y1="471.50" x2="213.60" y2="471.50" stroke="#ebebeb" stroke-width="0.8" />
<line x1="28.40" y1="441.70" x2="213.60" y2="441.70" stroke="#ebebeb" stroke-width="0.8" />
<line x1="28.40" y1="411.90" x2="213.60" y2="411.90" stroke="#ebebeb" stroke-width="0.8" />
<line x1="28.40" y1="382.10" x2="213.60" y2="382.10" stroke="#ebebeb" stroke-width="0.8" />
<line x1="28.40" y1="352.30" x2="213.60" y2="352.30" stroke="#ebebeb" stroke-width="0.8" />
<line x1="28.40" y1="351.80" x2="28.40" y2="501.90" stroke="#3c3c3c" stroke-width="1.0" />
<line x1="27.80" y1="501.30" x2="214.10" y2="501.30" stroke="#3c3c3c" stroke-width="1.0" />
<line x1="25.80" y1="501.30" x2="28.40" y2="501.30" stroke="#3c3c3c" stroke-width="0.9" />
<line x1="28.40" y1="501.30" x2="28.40" y2="503.90" stroke="#3c3c3c" stroke-width="0.9" />
<line x1="27.00" y1="486.40" x2="28.40" y2="486.40" stroke="#3c3c3c" stroke-width="0.9" />
<line x1="46.92" y1="501.30" x2="46.92" y2="502.70" stroke="#3c3c3c" stroke-width="0.9" />
<line x1="25.80" y1="471.50" x2="28.40" y2="471.50" stroke="#3c3c3c" stroke-width="0.9" />
<line x1="65.44" y1="501.30" x2="65.44" y2="503.90" stroke="#3c3c3c" stroke-width="0.9" />
<line x1="27.00" y1="456.60" x2="28.40" y2="456.60" stroke="#3c3c3c" stroke-width="0.9" />
<line x1="83.96" y1="501.30" x2="83.96" y2="502.70" stroke="#3c3c3c" stroke-width="0.9" />
<line x1="25.80" y1="441.70" x2="28.40" y2="441.70" stroke="#3c3c3c" stroke-width="0.9" />
<line x1="102.48" y1="501.30" x2="102.48" y2="503.90" stroke="#3c3c3c" stroke-width="0.9" />
<line x1="27.00" y1="426.80" x2="28.40" y2="426.80" stroke="#3c3c3c" stroke-width="0.9" />
<line x1="121.00" y1="501.30" x2="121.00" y2="502.70" stroke="#3c3c3c" stroke-width="0.9" />
<line x1="25.80" y1="411.90" x2="28.40" y2="411.90" stroke="#3c3c3c" stroke-width="0.9" />
<line x1="139.52" y1="501.30" x2="139.52" y2="503.90" stroke="#3c3c3c" stroke-width="0.9" />
<line x1="27.00" y1="397.00" x2="28.40" y2="397.00" stroke="#3c3c3c" stroke-width="0.9" />
<line x1="158.04" y1="501.30" x2="158.04" y2="502.70" stroke="#3c3c3c" stroke-width="0.9" />
<line x1="25.80" y1="382.10" x2="28.40" y2="382.10" stroke="#3c3c3c" stroke-width="0.9" />
<line x1="176.56" y1="501.30" x2="176.56" y2="503.90" stroke="#3c3c3c" stroke-width="0.9" />
<line x1="27.00" y1="367.20" x2="28.40" y2="367.20" stroke="#3c3c3c" stroke-width="0.9" />
<line x1="195.08" y1="501.30" x2="195.08" y2="502.70" stroke="#3c3c3c" stroke-width="0.9" />
<line x1="25.80" y1="352.30" x2="28.40" y2="352.30" stroke="#3c3c3c" stroke-width="0.9" />
<line x1="213.60" y1="501.30" x2="213.60" y2="503.90" stroke="#3c3c3c" stroke-width="0.9" />
<text x="23.80" y="503.68" font-size="6.6" text-anchor="end" fill="#444" font-weight="normal" >0.0</text>
<text x="28.40" y="511.58" font-size="6.6" text-anchor="middle" fill="#444" font-weight="normal" >1.0</text>
<text x="23.80" y="473.88" font-size="6.6" text-anchor="end" fill="#444" font-weight="normal" >0.2</text>
<text x="65.44" y="511.58" font-size="6.6" text-anchor="middle" fill="#444" font-weight="normal" >0.8</text>
<text x="23.80" y="444.08" font-size="6.6" text-anchor="end" fill="#444" font-weight="normal" >0.4</text>
<text x="102.48" y="511.58" font-size="6.6" text-anchor="middle" fill="#444" font-weight="normal" >0.6</text>
<text x="23.80" y="414.28" font-size="6.6" text-anchor="end" fill="#444" font-weight="normal" >0.6</text>
<text x="139.52" y="511.58" font-size="6.6" text-anchor="middle" fill="#444" font-weight="normal" >0.4</text>
<text x="23.80" y="384.48" font-size="6.6" text-anchor="end" fill="#444" font-weight="normal" >0.8</text>
<text x="176.56" y="511.58" font-size="6.6" text-anchor="middle" fill="#444" font-weight="normal" >0.2</text>
<text x="23.80" y="354.68" font-size="6.6" text-anchor="end" fill="#444" font-weight="normal" >1.0</text>
<text x="213.60" y="511.58" font-size="6.6" text-anchor="middle" fill="#444" font-weight="normal" >0.0</text>
<text x="7.10" y="429.70" font-size="7.8" text-anchor="middle" fill="#222" font-weight="normal" transform="rotate(-90 7.1 429.7)">Sensitivity</text>
<text x="120.10" y="523.50" font-size="7.8" text-anchor="middle" fill="#222" font-weight="normal" >Specificity</text>
<polyline points="28.40,352.30 60.00,352.70 100.00,353.30 135.00,354.10 158.40,355.00 170.00,355.60 180.00,356.40 189.90,357.60 198.40,359.70 204.10,362.10 207.70,364.90 209.80,369.20 210.90,373.40 211.60,380.50 212.20,390.50 212.60,401.80 213.10,420.00 213.50,460.00 213.60,501.00" fill="none" stroke="#8C5E34" stroke-width="0.7" stroke-linejoin="round" stroke-linecap="round" />
<polyline points="28.40,353.00 60.00,353.40 100.00,354.00 135.00,354.80 158.40,355.70 170.00,356.30 180.00,357.10 189.90,358.30 198.40,360.40 204.60,362.10 208.20,364.90 210.30,369.20 211.40,373.40 212.10,380.50 212.70,390.50 213.10,401.80 213.60,420.00 214.00,460.00 214.10,501.00" fill="none" stroke="#3B5675" stroke-width="0.75" stroke-linejoin="round" stroke-linecap="round" />
<polyline points="28.40,352.30 60.00,352.70 100.00,353.30 135.00,354.10 158.40,355.00 170.00,355.60 180.00,356.40 189.90,357.60 198.40,359.70 204.10,362.10 207.70,364.90 209.80,369.20 210.90,373.40 211.60,380.50 212.20,390.50 212.60,401.80 213.10,420.00 213.50,460.00 213.60,501.00" fill="none" stroke="#F6B32B" stroke-width="0.75" stroke-linejoin="round" stroke-linecap="round" />
<polyline points="28.40,352.40 60.00,352.90 100.00,355.50 135.00,356.70 158.40,358.10 170.00,359.00 180.00,360.20 189.90,361.30 198.40,363.30 205.10,367.30 208.70,369.90 210.10,375.00 211.00,382.00 211.80,392.00 212.30,405.00 212.80,430.00 213.10,460.00 213.30,501.00" fill="none" stroke="#7FC6CF" stroke-width="0.75" stroke-linejoin="round" stroke-linecap="round" />
<polyline points="28.40,352.40 60.00,352.90 100.00,354.50 135.00,355.70 158.40,357.10 170.00,358.00 180.00,359.20 189.90,360.30 198.40,362.30 205.50,366.30 209.10,369.90 210.50,375.00 211.40,382.00 212.20,392.00 212.70,405.00 213.20,430.00 213.50,460.00 213.70,501.00" fill="none" stroke="#45C3F1" stroke-width="0.75" stroke-linejoin="round" stroke-linecap="round" />
<rect x="189.50" y="356.50" width="21.00" height="16.00" stroke="#8e8e8e" stroke-width="0.9" fill="none"/>
<line x1="65.10" y1="376.60" x2="189.20" y2="356.40" stroke="#5a5a5a" stroke-width="0.8" />
<line x1="149.80" y1="431.30" x2="210.90" y2="372.30" stroke="#5a5a5a" stroke-width="0.8" />
<rect x="65.50" y="376.50" width="84.00" height="55.00" stroke="none" stroke-width="0" fill="white"/>
<path d="M65.5,376.5 L65.5,431.5 L149.5,431.5 L149.5,376.5" fill="none" stroke="#7e7e7e" stroke-width="0.9"/>
<line x1="65.10" y1="376.50" x2="149.90" y2="376.50" stroke="#c2c2c2" stroke-width="1.4" />
<polyline points="65.11,388.25 74.60,390.44 89.20,392.19 103.80,394.82 118.39,401.39 130.07,407.23 138.83,415.26 143.21,422.55 145.40,430.58" fill="none" stroke="#5AAFC0" stroke-width="0.95" stroke-linejoin="round" stroke-linecap="round" />
<polyline points="65.11,386.06 74.60,387.52 89.20,388.98 103.80,391.90 118.39,399.20 130.07,405.04 138.83,412.34 143.21,419.64 146.86,430.58" fill="none" stroke="#45C3F1" stroke-width="1.0" stroke-linejoin="round" stroke-linecap="round" />
<polyline points="65.11,380.51 74.60,381.68 89.20,384.60 109.64,387.81 125.69,394.23 132.99,400.95 140.29,407.66 144.67,418.91 147.88,430.58" fill="none" stroke="#8C5E34" stroke-width="1.0" stroke-linejoin="round" stroke-linecap="round" />
<polyline points="65.11,378.47 74.60,379.49 89.20,382.41 109.64,385.77 125.69,391.90 132.99,398.47 140.29,405.04 144.67,416.72 148.32,430.58" fill="none" stroke="#F6B32B" stroke-width="1.3" stroke-linejoin="round" stroke-linecap="round" />
<polyline points="65.11,380.95 74.60,381.97 89.20,384.89 109.64,388.25 125.69,394.82 132.99,401.39 140.29,408.25 144.67,419.64 147.59,430.58" fill="none" stroke="#3B5675" stroke-width="1.0" stroke-linejoin="round" stroke-linecap="round" />
<rect x="37.50" y="443.50" width="133.00" height="48.00" stroke="#8c8c8c" stroke-width="0.9" fill="white"/>
<line x1="41.40" y1="449.70" x2="63.90" y2="449.70" stroke="#F8C04E" stroke-width="1.0" />
<text x="68.80" y="452.35" font-size="7.35" text-anchor="start" fill="#151515" font-weight="normal" >vEpiNetV2</text>
<text x="108.67" y="452.35" font-size="7.35" text-anchor="start" fill="#151515" font-weight="normal" >0.9812</text>
<line x1="41.40" y1="458.20" x2="63.90" y2="458.20" stroke="#5CC6F2" stroke-width="1.0" />
<text x="68.80" y="460.85" font-size="7.35" text-anchor="start" fill="#151515" font-weight="normal" >EpiNetV2</text>
<text x="105.37" y="460.85" font-size="7.35" text-anchor="start" fill="#151515" font-weight="normal" >0.9720</text>
<line x1="41.40" y1="467.20" x2="63.90" y2="467.20" stroke="#AD8C6A" stroke-width="1.1" />
<text x="68.80" y="469.85" font-size="7.35" text-anchor="start" fill="#151515" font-weight="normal" >preYOLO-vEpiNetV2</text>
<text x="142.57" y="469.85" font-size="7.35" text-anchor="start" fill="#151515" font-weight="normal" >0.9765</text>
<line x1="41.40" y1="476.00" x2="63.90" y2="476.00" stroke="#7990A5" stroke-width="1.1" />
<text x="68.80" y="478.65" font-size="7.35" text-anchor="start" fill="#151515" font-weight="normal" >Badchan-vEpiNetV2</text>
<text x="140.47" y="478.65" font-size="7.35" text-anchor="start" fill="#151515" font-weight="normal" >0.9794</text>
<line x1="41.40" y1="484.70" x2="63.90" y2="484.70" stroke="#C5E2E5" stroke-width="1.4" />
<text x="68.80" y="487.35" font-size="7.35" text-anchor="start" fill="#151515" font-weight="normal" >Badchan-EpiNetV2</text>
<text x="138.77" y="487.35" font-size="7.35" text-anchor="start" fill="#151515" font-weight="normal" >0.9698</text>
<text x="258.60" y="312.60" font-size="15" text-anchor="start" fill="#111" font-weight="normal" >e</text>
<text x="256.00" y="334.50" font-size="10" text-anchor="start" fill="#151515" font-weight="normal" >SDQLCH   AUC</text>
<line x1="256.40" y1="472.12" x2="440.40" y2="472.12" stroke="#ebebeb" stroke-width="0.8" />
<line x1="256.40" y1="442.64" x2="440.40" y2="442.64" stroke="#ebebeb" stroke-width="0.8" />
<line x1="256.40" y1="413.16" x2="440.40" y2="413.16" stroke="#ebebeb" stroke-width="0.8" />
<line x1="256.40" y1="383.68" x2="440.40" y2="383.68" stroke="#ebebeb" stroke-width="0.8" />
<line x1="256.40" y1="354.20" x2="440.40" y2="354.20" stroke="#ebebeb" stroke-width="0.8" />
<line x1="256.40" y1="353.70" x2="256.40" y2="502.20" stroke="#3c3c3c" stroke-width="1.0" />
<line x1="255.80" y1="501.60" x2="440.90" y2="501.60" stroke="#3c3c3c" stroke-width="1.0" />
<line x1="253.80" y1="501.60" x2="256.40" y2="501.60" stroke="#3c3c3c" stroke-width="0.9" />
<line x1="256.40" y1="501.60" x2="256.40" y2="504.20" stroke="#3c3c3c" stroke-width="0.9" />
<line x1="255.00" y1="486.86" x2="256.40" y2="486.86" stroke="#3c3c3c" stroke-width="0.9" />
<line x1="274.80" y1="501.60" x2="274.80" y2="503.00" stroke="#3c3c3c" stroke-width="0.9" />
<line x1="253.80" y1="472.12" x2="256.40" y2="472.12" stroke="#3c3c3c" stroke-width="0.9" />
<line x1="293.20" y1="501.60" x2="293.20" y2="504.20" stroke="#3c3c3c" stroke-width="0.9" />
<line x1="255.00" y1="457.38" x2="256.40" y2="457.38" stroke="#3c3c3c" stroke-width="0.9" />
<line x1="311.60" y1="501.60" x2="311.60" y2="503.00" stroke="#3c3c3c" stroke-width="0.9" />
<line x1="253.80" y1="442.64" x2="256.40" y2="442.64" stroke="#3c3c3c" stroke-width="0.9" />
<line x1="330.00" y1="501.60" x2="330.00" y2="504.20" stroke="#3c3c3c" stroke-width="0.9" />
<line x1="255.00" y1="427.90" x2="256.40" y2="427.90" stroke="#3c3c3c" stroke-width="0.9" />
<line x1="348.40" y1="501.60" x2="348.40" y2="503.00" stroke="#3c3c3c" stroke-width="0.9" />
<line x1="253.80" y1="413.16" x2="256.40" y2="413.16" stroke="#3c3c3c" stroke-width="0.9" />
<line x1="366.80" y1="501.60" x2="366.80" y2="504.20" stroke="#3c3c3c" stroke-width="0.9" />
<line x1="255.00" y1="398.42" x2="256.40" y2="398.42" stroke="#3c3c3c" stroke-width="0.9" />
<line x1="385.20" y1="501.60" x2="385.20" y2="503.00" stroke="#3c3c3c" stroke-width="0.9" />
<line x1="253.80" y1="383.68" x2="256.40" y2="383.68" stroke="#3c3c3c" stroke-width="0.9" />
<line x1="403.60" y1="501.60" x2="403.60" y2="504.20" stroke="#3c3c3c" stroke-width="0.9" />
<line x1="255.00" y1="368.94" x2="256.40" y2="368.94" stroke="#3c3c3c" stroke-width="0.9" />
<line x1="422.00" y1="501.60" x2="422.00" y2="503.00" stroke="#3c3c3c" stroke-width="0.9" />
<line x1="253.80" y1="354.20" x2="256.40" y2="354.20" stroke="#3c3c3c" stroke-width="0.9" />
<line x1="440.40" y1="501.60" x2="440.40" y2="504.20" stroke="#3c3c3c" stroke-width="0.9" />
<text x="251.80" y="503.98" font-size="6.6" text-anchor="end" fill="#444" font-weight="normal" >0.0</text>
<text x="256.40" y="511.58" font-size="6.6" text-anchor="middle" fill="#444" font-weight="normal" >1.0</text>
<text x="251.80" y="474.50" font-size="6.6" text-anchor="end" fill="#444" font-weight="normal" >0.2</text>
<text x="293.20" y="511.58" font-size="6.6" text-anchor="middle" fill="#444" font-weight="normal" >0.8</text>
<text x="251.80" y="445.02" font-size="6.6" text-anchor="end" fill="#444" font-weight="normal" >0.4</text>
<text x="330.00" y="511.58" font-size="6.6" text-anchor="middle" fill="#444" font-weight="normal" >0.6</text>
<text x="251.80" y="415.54" font-size="6.6" text-anchor="end" fill="#444" font-weight="normal" >0.6</text>
<text x="366.80" y="511.58" font-size="6.6" text-anchor="middle" fill="#444" font-weight="normal" >0.4</text>
<text x="251.80" y="386.06" font-size="6.6" text-anchor="end" fill="#444" font-weight="normal" >0.8</text>
<text x="403.60" y="511.58" font-size="6.6" text-anchor="middle" fill="#444" font-weight="normal" >0.2</text>
<text x="251.80" y="356.58" font-size="6.6" text-anchor="end" fill="#444" font-weight="normal" >1.0</text>
<text x="440.40" y="511.58" font-size="6.6" text-anchor="middle" fill="#444" font-weight="normal" >0.0</text>
<text x="235.40" y="428.40" font-size="7.8" text-anchor="middle" fill="#222" font-weight="normal" transform="rotate(-90 235.4 428.4)">Sensitivity</text>
<text x="347.90" y="522.50" font-size="7.8" text-anchor="middle" fill="#222" font-weight="normal" >Specificity</text>
<polyline points="256.80,354.40 286.50,354.90 313.40,356.00 330.00,357.20 347.50,358.20 365.00,359.80 378.20,361.50 385.00,363.20 403.90,366.10 413.40,368.00 420.00,370.80 423.80,374.60 426.60,380.30 429.00,387.90 430.90,394.50 432.30,400.00 434.80,415.80 437.90,436.70 439.60,457.50 440.40,478.30 440.60,501.00" fill="none" stroke="#6DB8C8" stroke-width="0.8" stroke-linejoin="round" stroke-linecap="round" />
<polyline points="256.80,354.40 286.50,354.90 288.90,356.40 291.20,358.20 301.70,359.10 319.20,360.30 330.00,360.50 347.50,361.80 365.00,363.10 378.20,364.00 385.00,364.50 394.50,365.60 403.90,368.00 413.40,370.30 422.90,373.70 429.50,377.40 434.20,381.20 436.10,382.60 436.60,387.90 437.50,395.00 439.00,415.00 440.00,440.00 440.40,501.00" fill="none" stroke="#8C5E34" stroke-width="0.8" stroke-linejoin="round" stroke-linecap="round" />
<polyline points="256.80,354.40 286.50,355.00 313.40,356.00 330.00,357.20 347.50,358.00 365.00,359.50 378.20,361.00 385.00,362.30 403.90,364.20 413.40,366.60 422.90,370.30 429.50,374.60 433.30,378.40 435.20,381.70 436.60,385.00 437.50,390.70 438.50,400.00 439.60,415.80 440.20,436.70 440.40,501.00" fill="none" stroke="#3B5675" stroke-width="0.75" stroke-linejoin="round" stroke-linecap="round" />
<polyline points="256.80,354.40 286.50,354.90 313.40,355.90 330.00,357.00 347.50,357.80 365.00,359.20 378.20,360.40 385.00,361.40 390.00,361.90 403.90,363.70 413.40,365.60 422.90,368.90 429.50,372.70 433.30,376.50 435.20,380.30 436.60,384.10 438.00,392.60 439.20,400.00 440.00,415.80 440.20,436.70 440.40,501.00" fill="none" stroke="#45C3F1" stroke-width="0.8" stroke-linejoin="round" stroke-linecap="round" />
<polyline points="256.80,354.40 286.50,354.90 313.40,355.80 330.00,356.80 347.50,357.50 365.00,358.50 378.20,359.20 385.00,360.20 390.00,360.60 403.90,362.30 413.40,364.20 422.90,367.50 429.50,370.80 433.30,374.60 435.60,379.30 437.00,384.10 438.50,392.60 439.40,400.00 440.00,415.80 440.20,436.70 440.40,501.00" fill="none" stroke="#F6B32B" stroke-width="0.8" stroke-linejoin="round" stroke-linecap="round" />
<rect x="404.50" y="362.50" width="33.00" height="20.00" stroke="#8e8e8e" stroke-width="0.9" fill="none"/>
<line x1="296.30" y1="373.30" x2="404.10" y2="362.20" stroke="#5a5a5a" stroke-width="0.8" />
<line x1="381.70" y1="426.30" x2="437.50" y2="382.50" stroke="#5a5a5a" stroke-width="0.8" />
<rect x="296.50" y="373.50" width="85.00" height="53.00" stroke="none" stroke-width="0" fill="white"/>
<path d="M296.5,373.5 L296.5,426.5 L381.5,426.5 L381.5,373.5" fill="none" stroke="#7e7e7e" stroke-width="0.9"/>
<line x1="296.10" y1="373.50" x2="381.90" y2="373.50" stroke="#707070" stroke-width="1.0" />
<polyline points="296.57,383.25 311.90,386.90 326.50,392.01 338.18,397.12 345.47,402.23 351.31,411.72 355.69,420.47 358.32,426.31" fill="none" stroke="#5AAFC0" stroke-width="0.85" stroke-linejoin="round" stroke-linecap="round" />
<polyline points="296.57,387.19 311.90,389.82 326.50,394.20 341.09,399.31 355.69,404.42 364.45,409.53 370.29,414.64 373.94,421.93 375.40,426.31" fill="none" stroke="#8C5E34" stroke-width="0.9" stroke-linejoin="round" stroke-linecap="round" />
<polyline points="296.57,380.04 311.90,382.52 333.80,387.63 351.31,394.93 364.45,401.50 371.75,410.26 376.13,420.47 377.15,426.31" fill="none" stroke="#45C3F1" stroke-width="0.9" stroke-linejoin="round" stroke-linecap="round" />
<polyline points="296.57,377.41 311.90,381.06 333.80,388.36 348.39,394.20 358.61,402.96 365.91,410.26 370.29,419.01 373.21,426.31" fill="none" stroke="#3B5675" stroke-width="0.85" stroke-linejoin="round" stroke-linecap="round" />
<polyline points="296.57,375.22 311.90,377.41 333.80,382.52 351.31,388.36 361.53,393.47 368.83,400.04 374.67,410.26 377.59,420.47 378.32,426.31" fill="none" stroke="#F6B32B" stroke-width="1.15" stroke-linejoin="round" stroke-linecap="round" />
<rect x="265.50" y="444.50" width="134.00" height="47.00" stroke="#8c8c8c" stroke-width="0.9" fill="white"/>
<line x1="269.90" y1="449.60" x2="292.40" y2="449.60" stroke="#FBDCA0" stroke-width="1.6" />
<text x="296.80" y="452.25" font-size="7.35" text-anchor="start" fill="#151515" font-weight="normal" >vEpiNetV2</text>
<text x="337.47" y="452.25" font-size="7.35" text-anchor="start" fill="#151515" font-weight="normal" >0.9579</text>
<line x1="269.90" y1="458.80" x2="292.40" y2="458.80" stroke="#A5DCF5" stroke-width="1.6" />
<text x="296.80" y="461.45" font-size="7.35" text-anchor="start" fill="#151515" font-weight="normal" >EpiNetV2</text>
<text x="333.97" y="461.45" font-size="7.35" text-anchor="start" fill="#151515" font-weight="normal" >0.9533</text>
<line x1="269.90" y1="467.60" x2="292.40" y2="467.60" stroke="#A5855F" stroke-width="1.0" />
<text x="296.80" y="470.25" font-size="7.35" text-anchor="start" fill="#151515" font-weight="normal" >preYOLO-vEpiNetV2</text>
<text x="370.97" y="470.25" font-size="7.35" text-anchor="start" fill="#151515" font-weight="normal" >0.9341</text>
<line x1="269.90" y1="476.30" x2="292.40" y2="476.30" stroke="#556B85" stroke-width="1.0" />
<text x="296.80" y="478.95" font-size="7.35" text-anchor="start" fill="#151515" font-weight="normal" >Badchan-vEpiNetV2</text>
<text x="368.97" y="478.95" font-size="7.35" text-anchor="start" fill="#151515" font-weight="normal" >0.9518</text>
<line x1="269.90" y1="485.10" x2="292.40" y2="485.10" stroke="#85C3CB" stroke-width="1.0" />
<text x="296.80" y="487.75" font-size="7.35" text-anchor="start" fill="#151515" font-weight="normal" >Badchan-EpiNetV2</text>
<text x="367.47" y="487.75" font-size="7.35" text-anchor="start" fill="#151515" font-weight="normal" >0.9338</text>
<text x="489.40" y="311.90" font-size="14.5" text-anchor="start" fill="#111" font-weight="normal" >f</text>
<text x="483.20" y="334.10" font-size="10" text-anchor="start" fill="#151515" font-weight="normal" >BJTTH   AUC</text>
<line x1="478.30" y1="474.58" x2="662.20" y2="474.58" stroke="#ebebeb" stroke-width="0.8" />
<line x1="478.30" y1="444.96" x2="662.20" y2="444.96" stroke="#ebebeb" stroke-width="0.8" />
<line x1="478.30" y1="415.34" x2="662.20" y2="415.34" stroke="#ebebeb" stroke-width="0.8" />
<line x1="478.30" y1="385.72" x2="662.20" y2="385.72" stroke="#ebebeb" stroke-width="0.8" />
<line x1="478.30" y1="356.10" x2="662.20" y2="356.10" stroke="#ebebeb" stroke-width="0.8" />
<line x1="478.30" y1="355.60" x2="478.30" y2="504.80" stroke="#3c3c3c" stroke-width="1.0" />
<line x1="477.70" y1="504.20" x2="662.70" y2="504.20" stroke="#3c3c3c" stroke-width="1.0" />
<line x1="475.70" y1="504.20" x2="478.30" y2="504.20" stroke="#3c3c3c" stroke-width="0.9" />
<line x1="478.30" y1="504.20" x2="478.30" y2="506.80" stroke="#3c3c3c" stroke-width="0.9" />
<line x1="476.90" y1="489.39" x2="478.30" y2="489.39" stroke="#3c3c3c" stroke-width="0.9" />
<line x1="496.69" y1="504.20" x2="496.69" y2="505.60" stroke="#3c3c3c" stroke-width="0.9" />
<line x1="475.70" y1="474.58" x2="478.30" y2="474.58" stroke="#3c3c3c" stroke-width="0.9" />
<line x1="515.08" y1="504.20" x2="515.08" y2="506.80" stroke="#3c3c3c" stroke-width="0.9" />
<line x1="476.90" y1="459.77" x2="478.30" y2="459.77" stroke="#3c3c3c" stroke-width="0.9" />
<line x1="533.47" y1="504.20" x2="533.47" y2="505.60" stroke="#3c3c3c" stroke-width="0.9" />
<line x1="475.70" y1="444.96" x2="478.30" y2="444.96" stroke="#3c3c3c" stroke-width="0.9" />
<line x1="551.86" y1="504.20" x2="551.86" y2="506.80" stroke="#3c3c3c" stroke-width="0.9" />
<line x1="476.90" y1="430.15" x2="478.30" y2="430.15" stroke="#3c3c3c" stroke-width="0.9" />
<line x1="570.25" y1="504.20" x2="570.25" y2="505.60" stroke="#3c3c3c" stroke-width="0.9" />
<line x1="475.70" y1="415.34" x2="478.30" y2="415.34" stroke="#3c3c3c" stroke-width="0.9" />
<line x1="588.64" y1="504.20" x2="588.64" y2="506.80" stroke="#3c3c3c" stroke-width="0.9" />
<line x1="476.90" y1="400.53" x2="478.30" y2="400.53" stroke="#3c3c3c" stroke-width="0.9" />
<line x1="607.03" y1="504.20" x2="607.03" y2="505.60" stroke="#3c3c3c" stroke-width="0.9" />
<line x1="475.70" y1="385.72" x2="478.30" y2="385.72" stroke="#3c3c3c" stroke-width="0.9" />
<line x1="625.42" y1="504.20" x2="625.42" y2="506.80" stroke="#3c3c3c" stroke-width="0.9" />
<line x1="476.90" y1="370.91" x2="478.30" y2="370.91" stroke="#3c3c3c" stroke-width="0.9" />
<line x1="643.81" y1="504.20" x2="643.81" y2="505.60" stroke="#3c3c3c" stroke-width="0.9" />
<line x1="475.70" y1="356.10" x2="478.30" y2="356.10" stroke="#3c3c3c" stroke-width="0.9" />
<line x1="662.20" y1="504.20" x2="662.20" y2="506.80" stroke="#3c3c3c" stroke-width="0.9" />
<text x="473.70" y="506.58" font-size="6.6" text-anchor="end" fill="#444" font-weight="normal" >0.0</text>
<text x="478.30" y="514.28" font-size="6.6" text-anchor="middle" fill="#444" font-weight="normal" >1.0</text>
<text x="473.70" y="476.96" font-size="6.6" text-anchor="end" fill="#444" font-weight="normal" >0.2</text>
<text x="515.08" y="514.28" font-size="6.6" text-anchor="middle" fill="#444" font-weight="normal" >0.8</text>
<text x="473.70" y="447.34" font-size="6.6" text-anchor="end" fill="#444" font-weight="normal" >0.4</text>
<text x="551.86" y="514.28" font-size="6.6" text-anchor="middle" fill="#444" font-weight="normal" >0.6</text>
<text x="473.70" y="417.72" font-size="6.6" text-anchor="end" fill="#444" font-weight="normal" >0.6</text>
<text x="588.64" y="514.28" font-size="6.6" text-anchor="middle" fill="#444" font-weight="normal" >0.4</text>
<text x="473.70" y="388.10" font-size="6.6" text-anchor="end" fill="#444" font-weight="normal" >0.8</text>
<text x="625.42" y="514.28" font-size="6.6" text-anchor="middle" fill="#444" font-weight="normal" >0.2</text>
<text x="473.70" y="358.48" font-size="6.6" text-anchor="end" fill="#444" font-weight="normal" >1.0</text>
<text x="662.20" y="514.28" font-size="6.6" text-anchor="middle" fill="#444" font-weight="normal" >0.0</text>
<text x="459.70" y="430.10" font-size="7.8" text-anchor="middle" fill="#222" font-weight="normal" transform="rotate(-90 459.7 430.1)">Sensitivity</text>
<text x="572.50" y="523.90" font-size="7.8" text-anchor="middle" fill="#222" font-weight="normal" >Specificity</text>
<polyline points="478.30,356.10 536.40,357.20 541.10,358.20 544.60,360.50 548.10,363.10 552.70,365.00 558.00,366.40 572.50,369.10 590.00,371.70 605.00,372.90 614.50,374.30 623.90,376.00 633.40,378.40 642.90,381.70 649.50,385.00 654.20,388.80 657.10,392.60 659.00,396.40 659.90,400.00 661.00,423.00 661.50,504.00" fill="none" stroke="#8C5E34" stroke-width="0.8" stroke-linejoin="round" stroke-linecap="round" />
<polyline points="478.30,356.10 513.00,356.50 536.40,357.30 555.00,358.30 581.30,359.40 605.00,360.20 619.20,360.90 633.40,361.90 642.90,363.70 650.40,367.00 654.50,371.00 656.10,374.60 657.50,382.20 658.90,392.60 659.70,400.00 660.80,430.00 661.60,504.00" fill="none" stroke="#6DB8C8" stroke-width="0.8" stroke-linejoin="round" stroke-linecap="round" />
<polyline points="478.30,356.10 513.00,356.50 536.40,357.30 555.00,358.30 581.30,359.40 605.00,360.20 619.20,360.90 633.40,361.90 642.90,363.70 650.40,367.00 654.70,370.80 657.10,376.50 658.50,384.10 659.70,392.60 660.40,400.00 661.20,430.00 661.80,504.00" fill="none" stroke="#45C3F1" stroke-width="0.8" stroke-linejoin="round" stroke-linecap="round" />
<polyline points="478.30,356.10 513.00,356.40 536.40,357.00 555.00,357.40 581.30,357.70 605.00,358.50 615.00,359.00 619.20,359.50 633.40,361.20 642.90,363.70 649.50,367.00 654.20,370.80 657.10,375.60 658.90,382.20 660.40,389.70 661.30,400.00 661.80,430.00 662.00,504.00" fill="none" stroke="#F6B32B" stroke-width="0.8" stroke-linejoin="round" stroke-linecap="round" />
<rect x="635.50" y="361.50" width="19.00" height="10.00" stroke="#8e8e8e" stroke-width="0.9" fill="none"/>
<line x1="511.30" y1="381.40" x2="635.10" y2="361.30" stroke="#5a5a5a" stroke-width="0.8" />
<line x1="599.60" y1="435.10" x2="654.80" y2="371.60" stroke="#5a5a5a" stroke-width="0.8" />
<rect x="511.50" y="381.50" width="88.00" height="54.00" stroke="none" stroke-width="0" fill="white"/>
<path d="M511.5,381.5 L511.5,435.5 L599.5,435.5 L599.5,381.5" fill="none" stroke="#7e7e7e" stroke-width="0.9"/>
<line x1="511.10" y1="381.50" x2="599.90" y2="381.50" stroke="#707070" stroke-width="1.0" />
<polyline points="511.57,389.60 529.82,392.52 545.88,397.63 560.47,403.47 570.69,410.77 577.99,418.80 585.29,426.09 590.40,435.15" fill="none" stroke="#6DBAC6" stroke-width="0.8" stroke-linejoin="round" stroke-linecap="round" />
<polyline points="511.57,390.04 529.82,392.23 545.88,396.17 560.47,401.28 573.61,407.12 582.37,415.88 591.13,423.18 596.97,433.39 597.70,435.15" fill="none" stroke="#5CC8F2" stroke-width="0.8" stroke-linejoin="round" stroke-linecap="round" />
<polyline points="511.57,385.22 529.82,389.60 541.50,394.71 556.09,400.55 569.23,409.31 575.07,413.69 583.83,420.26 592.59,429.01 597.26,435.15" fill="none" stroke="#F4BA3C" stroke-width="0.95" stroke-linejoin="round" stroke-linecap="round" />
<rect x="492.50" y="446.50" width="134.00" height="48.00" stroke="#8c8c8c" stroke-width="0.9" fill="white"/>
<line x1="497.00" y1="453.60" x2="518.90" y2="453.60" stroke="#F8C55E" stroke-width="1.1" />
<text x="524.00" y="456.25" font-size="7.35" text-anchor="start" fill="#151515" font-weight="normal" >vEpiNetV2</text>
<text x="564.67" y="456.25" font-size="7.35" text-anchor="start" fill="#151515" font-weight="normal" >0.9774</text>
<line x1="497.00" y1="462.30" x2="518.90" y2="462.30" stroke="#6ECBF2" stroke-width="1.1" />
<text x="524.00" y="464.95" font-size="7.35" text-anchor="start" fill="#151515" font-weight="normal" >EpiNetV2</text>
<text x="560.77" y="464.95" font-size="7.35" text-anchor="start" fill="#151515" font-weight="normal" >0.9701</text>
<line x1="497.00" y1="471.10" x2="518.90" y2="471.10" stroke="#D3BFAE" stroke-width="1.7" />
<text x="524.00" y="473.75" font-size="7.35" text-anchor="start" fill="#151515" font-weight="normal" >preYOLO-vEpiNetV2</text>
<text x="597.77" y="473.75" font-size="7.35" text-anchor="start" fill="#151515" font-weight="normal" >0.9173</text>
<line x1="497.00" y1="479.90" x2="518.90" y2="479.90" stroke="#A5B3C1" stroke-width="1.7" />
<text x="524.00" y="482.55" font-size="7.35" text-anchor="start" fill="#151515" font-weight="normal" >Badchan-vEpiNetV2</text>
<text x="595.77" y="482.55" font-size="7.35" text-anchor="start" fill="#151515" font-weight="normal" >0.9689</text>
<line x1="497.00" y1="488.60" x2="518.90" y2="488.60" stroke="#A0D2D8" stroke-width="1.0" />
<text x="524.00" y="491.25" font-size="7.35" text-anchor="start" fill="#151515" font-weight="normal" >Badchan-EpiNetV2</text>
<text x="594.67" y="491.25" font-size="7.35" text-anchor="start" fill="#151515" font-weight="normal" >0.9774</text>
</svg></body></html>
